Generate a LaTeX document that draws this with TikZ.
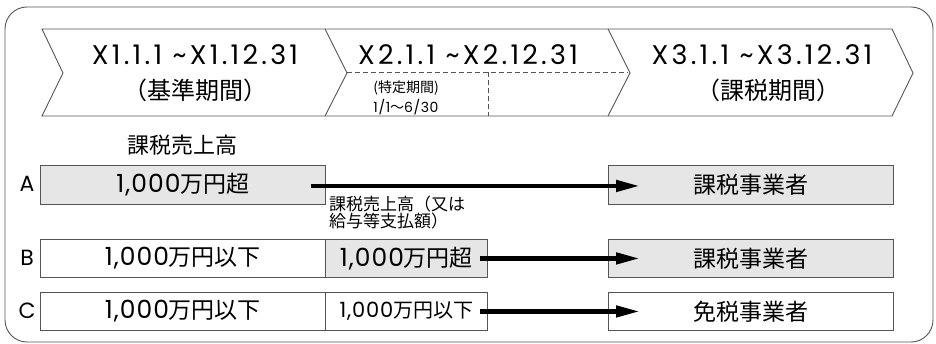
\documentclass[tikz,border=0pt]{standalone}
\usepackage{fontspec}
\setmainfont{Noto Sans CJK JP}
\newfontfamily\lat[LetterSpace=4]{Poppins}
\newfontfamily\latwide[LetterSpace=12]{Poppins}
\usetikzlibrary{arrows.meta}
\definecolor{boxgray}{HTML}{E6E6E6}
\definecolor{edge}{HTML}{555555}
\newcommand{\num}[1]{{\lat\fontsize{25}{26}\selectfont #1}}
\begin{document}
\begin{tikzpicture}[x=1pt,y=-1pt,
  cell/.style={draw=edge,line width=0.9pt,inner sep=0pt,anchor=north west,
    font=\fontsize{23}{26}\selectfont},
  wide/.style={cell,minimum width=285pt},
  mid/.style={cell,minimum width=162pt},
  shaded/.style={fill=boxgray},
  rowlab/.style={font=\fontsize{22}{24}\selectfont,inner sep=0pt},
  period/.style={font=\fontsize{24}{28}\selectfont,inner sep=0pt,align=center},
  latper/.style={font=\latwide\fontsize{27}{28}\selectfont,inner sep=0pt,anchor=base},
  small/.style={font=\fontsize{14}{16}\selectfont,inner sep=0pt,align=center},
  flow/.style={line width=4.5pt,-{Triangle[length=24pt,width=11pt]}}]
\useasboundingbox (0,0) rectangle (936,344);
% outer frame
\draw[edge,line width=0.9pt,rounded corners=22pt] (5,7) rectangle (933,342);
% chevron band
\draw[edge,line width=0.9pt] (42,29) -- (892,29) -- (913,73) -- (892,116) -- (42,116) -- (63,73) -- cycle;
\draw[edge,line width=0.9pt] (325,29) -- (347,73) -- (325,116);
\draw[edge,line width=0.9pt] (608,29) -- (630,73) -- (608,116);
\draw[edge,line width=0.8pt,dash pattern=on 5pt off 3pt] (347,72) -- (628,72);
\draw[edge,line width=0.8pt,dash pattern=on 5pt off 3pt] (488,72) -- (488,116);
% period texts
\node[latper] (p1a) at (195,65) {X1.1.1 \textasciitilde X1.12.31};
\node[period] (p1b) at (195,90) {（基準期間）};
\node[latper] (p2a) at (468,65) {X2.1.1 \textasciitilde X2.12.31};
\node[small] (p2b) at (406,88) {(特定期間)};
\node[small] (p2c) at (406,107) {{\lat 1/1}〜{\lat 6/30}};
\node[latper] (p3a) at (762,65) {X3.1.1 \textasciitilde X3.12.31};
\node[period] (p3b) at (768,90) {（課税期間）};
\node[rowlab] (head) at (182,145) {課税売上高};
% row labels
\node[rowlab,font=\lat\fontsize{22}{24}\selectfont] (la) at (27,184) {A};
\node[rowlab,font=\lat\fontsize{22}{24}\selectfont] (lb) at (27,258) {B};
\node[rowlab,font=\lat\fontsize{22}{24}\selectfont] (lc) at (27,311) {C};
% row A
\node[wide,shaded,minimum height=39pt] (a1) at (40,165) {\num{1,000}万円超};
\node[wide,shaded,minimum height=39pt] (a3) at (608,165) {課税事業者};
% note
\node[small,font=\fontsize{17}{16}\selectfont,align=left,anchor=north west] (note) at (329,196) {課税売上高（又は\\給与等支払額）};
% row B
\node[wide,minimum height=38pt] (b1) at (40,239) {\num{1,000}万円以下};
\node[mid,shaded,minimum height=38pt] (b2) at (325,239) {\num{1,000}万円超};
\node[wide,shaded,minimum height=38pt] (b3) at (608,239) {課税事業者};
% row C
\node[wide,minimum height=38pt] (c1) at (40,292) {\num{1,000}万円以下};
\node[mid,minimum height=38pt,font=\fontsize{20}{24}\selectfont] (c2) at (325,292) {{\lat\fontsize{21}{24}\selectfont 1,000}万円以下};
\node[wide,minimum height=38pt] (c3) at (608,292) {免税事業者};
% arrows
\draw[flow] ([xshift=-15pt,yshift=-1pt]a1.east) -- ([xshift=32pt,yshift=-1pt]a3.west);
\draw[flow] ([xshift=-8pt]b2.east) -- ([xshift=32pt]b3.west);
\draw[flow] ([xshift=-8pt]c2.east) -- ([xshift=32pt]c3.west);
\end{tikzpicture}
\end{document}
